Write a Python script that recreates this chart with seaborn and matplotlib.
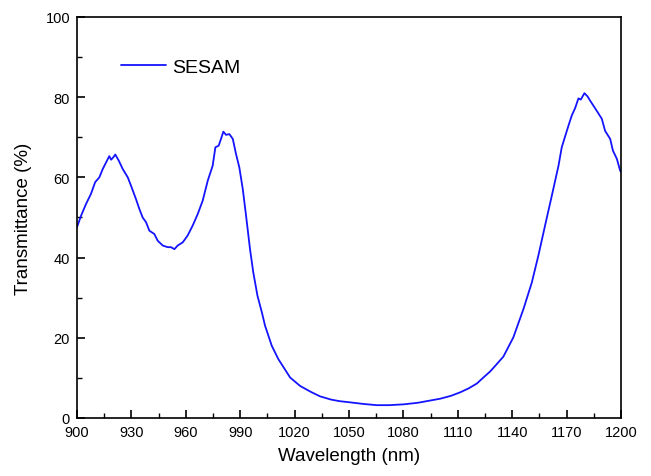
import numpy as np
import pandas as pd
import matplotlib
matplotlib.use('Agg')
import matplotlib.pyplot as plt
from matplotlib.ticker import MultipleLocator
import seaborn as sns

# values
wavelength = [900.0, 902.2, 905.0, 907.7, 910.0, 912.3, 914.2, 917.0, 917.8, 918.8,
              920.0, 921.1, 923.0, 925.2, 928.0, 929.8, 932.5, 934.4, 936.2, 938.1,
              939.9, 942.6, 944.5, 947.3, 950.0, 951.8, 953.7, 955.5, 958.3, 961.0,
              963.8, 966.6, 969.3, 972.1, 974.8, 976.3, 978.1, 979.4, 980.7, 982.2,
              984.0, 985.9, 987.7, 989.5, 991.4, 993.2, 995.4, 997.2, 999.5, 1001.9,
              1003.7, 1007.4, 1011.0, 1017.5, 1023.0, 1029.0, 1034.0, 1040.0, 1044.7, 1050.6,
              1058.0, 1065.3, 1072.0, 1080.0, 1088.0, 1096.5, 1100.2, 1106.0, 1111.3, 1116.0,
              1120.5, 1124.1, 1127.8, 1131.0, 1135.1, 1140.6, 1146.2, 1150.8, 1154.4, 1158.1,
              1161.8, 1165.5, 1167.3, 1169.0, 1171.0, 1172.8, 1174.7, 1176.5, 1177.8, 1179.8,
              1181.5, 1183.0, 1186.6, 1189.4, 1191.2, 1194.0, 1195.5, 1197.7, 1199.5, 1200.0]
transmittance = [47.6, 50.4, 53.4, 55.9, 58.8, 60.0, 62.1, 64.6, 65.3, 64.4,
                 65.0, 65.7, 64.2, 62.1, 60.0, 57.9, 54.6, 52.1, 50.0, 48.8,
                 46.7, 45.9, 44.2, 43.0, 42.6, 42.6, 42.1, 43.0, 43.8, 45.5,
                 48.0, 50.9, 54.2, 59.2, 62.9, 67.5, 67.9, 69.6, 71.4, 70.6,
                 70.8, 69.6, 65.8, 62.5, 57.1, 50.5, 42.1, 36.3, 30.5, 26.4,
                 23.0, 18.0, 14.7, 10.1, 8.0, 6.5, 5.4, 4.6, 4.2, 3.9,
                 3.5, 3.2, 3.2, 3.4, 3.8, 4.5, 4.8, 5.5, 6.4, 7.4,
                 8.6, 10.1, 11.6, 13.2, 15.3, 20.1, 27.2, 33.8, 40.5, 48.0,
                 55.4, 62.9, 67.5, 70.0, 72.9, 75.4, 77.3, 79.7, 79.4, 81.0,
                 80.2, 79.1, 76.6, 74.6, 71.6, 69.6, 66.7, 64.6, 61.7, 61.3]

df = pd.DataFrame({'Wavelength (nm)': wavelength,
                   'Transmittance (%)': transmittance})

sns.set_style('ticks', {'axes.edgecolor': 'black', 'text.color': 'black',
                        'axes.labelcolor': 'black', 'xtick.color': 'black',
                        'ytick.color': 'black'})
plt.rcParams['font.family'] = ['Liberation Sans', 'DejaVu Sans']

fig = plt.figure(figsize=(6.51, 4.77), dpi=100)
ax = fig.add_axes([0.1183, 0.1216, 0.8357, 0.8407])

sns.lineplot(data=df, x='Wavelength (nm)', y='Transmittance (%)', ax=ax,
             color='#1414ff', linewidth=1.3, label='SESAM')

ax.set_xlim(900, 1200)
ax.set_ylim(0, 100)
ax.xaxis.set_major_locator(MultipleLocator(30))
ax.xaxis.set_minor_locator(MultipleLocator(15))
ax.yaxis.set_major_locator(MultipleLocator(20))
ax.yaxis.set_minor_locator(MultipleLocator(10))
ax.tick_params(which='major', direction='in', length=6, width=1.2,
               labelsize=10.5, pad=5, colors='black')
ax.tick_params(which='minor', direction='in', length=3.5, width=1.0,
               colors='black')
for sp in ax.spines.values():
    sp.set_linewidth(1.2)
    sp.set_color('black')
    sp.set_visible(True)

ax.set_xlabel('Wavelength (nm)', fontsize=13.5, labelpad=6, color='black')
ax.set_ylabel('Transmittance (%)', fontsize=13.5, labelpad=10, color='black')

ax.legend(loc='center left', bbox_to_anchor=(0.081, 0.875), frameon=False,
          fontsize=14, handlelength=2.3, handletextpad=0.3,
          borderpad=0, borderaxespad=0)

plt.savefig('out.png', dpi=100)
